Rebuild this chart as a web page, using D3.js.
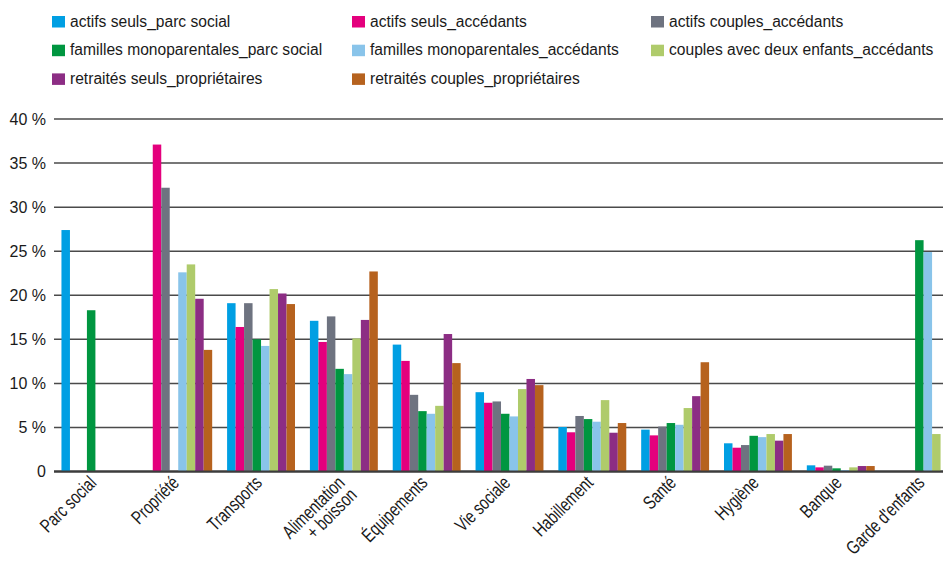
<!DOCTYPE html>
<html>
<head>
<meta charset="utf-8">
<script src="https://cdn.jsdelivr.net/npm/d3@7"></script>
<style>
  body { margin: 0; background: #fff; }
  text { font-family: "Liberation Sans", Arial, sans-serif; fill: #1a1a1a; }
</style>
</head>
<body>
<div id="chart"></div>
<script>
var w = 943;
var h = 563;

var categories = ["Parc social", "Propriété", "Transports", "Alimentation\n+ boisson", "Équipements",
  "Vie sociale", "Habillement", "Santé", "Hygiène", "Banque", "Garde d'enfants"];

var seriesNames = ["actifs seuls_parc social", "actifs seuls_accédants", "actifs couples_accédants",
  "familles monoparentales_parc social", "familles monoparentales_accédants", "couples avec deux enfants_accédants",
  "retraités seuls_propriétaires", "retraités couples_propriétaires"];

var seriesColors = ["#009fe3", "#e4007d", "#6e7380", "#009640", "#89c4ea", "#afcb6b", "#8c2d84", "#b6621e"];

// values in %, one per category
var actifsSeulsParcSocial   = [27.4, 0, 19.1, 17.1, 14.4, 9.0, 5.05, 4.75, 3.2, 0.7, 0];
var actifsSeulsAccedants    = [0, 37.1, 16.4, 14.7, 12.55, 7.8, 4.45, 4.1, 2.7, 0.47, 0];
var actifsCouplesAccedants  = [0, 32.2, 19.1, 17.6, 8.7, 7.95, 6.3, 5.1, 3.0, 0.66, 0];
var famillesMonoParcSocial  = [18.3, 0, 15.0, 11.65, 6.85, 6.55, 5.95, 5.5, 4.05, 0.36, 26.25];
var famillesMonoAccedants   = [0, 22.6, 14.25, 11.05, 6.55, 6.25, 5.65, 5.3, 3.9, 0.17, 24.9];
var couplesDeuxEnfants      = [0, 23.5, 20.7, 15.1, 7.45, 9.35, 8.1, 7.2, 4.25, 0.47, 4.25];
var retraitesSeuls          = [0, 19.6, 20.2, 17.2, 15.6, 10.5, 4.4, 8.55, 3.5, 0.62, 0];
var retraitesCouples        = [0, 13.8, 19.0, 22.7, 12.3, 9.8, 5.5, 12.4, 4.25, 0.62, 0];

var seriesValues = [actifsSeulsParcSocial, actifsSeulsAccedants, actifsCouplesAccedants,
  famillesMonoParcSocial, famillesMonoAccedants, couplesDeuxEnfants, retraitesSeuls, retraitesCouples];

var yTicks = [0, 5, 10, 15, 20, 25, 30, 35, 40];

var svg = d3.select("#chart")
  .append("svg")
  .attr("width", w)
  .attr("height", h);

var x0 = d3.scaleBand()
  .domain(categories)
  .range([54, 965])
  .paddingInner(0.18)
  .paddingOuter(0.09);

var x1 = d3.scaleBand()
  .domain(d3.range(seriesNames.length))
  .range([0, x0.bandwidth()]);

var y = d3.scaleLinear()
  .domain([0, 40])
  .range([471.5, 119]);

// grid lines
var grid = svg.append("g").attr("class", "grid");
yTicks.forEach(function(t) {
  grid.append("line")
    .attr("x1", 54)
    .attr("x2", w)
    .attr("y1", y(t))
    .attr("y2", y(t))
    .attr("stroke", t == 0 ? "#3c3c3c" : "#4a4a4a")
    .attr("stroke-width", t == 0 ? 2 : 1.5);
});

// y labels
var yaxis = svg.append("g").attr("class", "yaxis");
yTicks.forEach(function(t) {
  yaxis.append("text")
    .attr("x", 46)
    .attr("y", y(t))
    .attr("dy", "0.36em")
    .attr("text-anchor", "end")
    .style("font-size", "16px")
    .text(t == 0 ? "0" : t + " %");
});

// bars
var rows = [];
categories.forEach(function(c, ci) {
  seriesValues.forEach(function(vals, si) {
    if (vals[ci] > 0) rows.push({cat: c, s: si, v: vals[ci]});
  });
});

svg.append("g").attr("class", "bars")
  .selectAll("rect")
  .data(rows)
  .enter()
  .append("rect")
  .attr("x", function(d) { return x0(d.cat) + x1(d.s); })
  .attr("y", function(d) { return y(d.v); })
  .attr("width", x1.bandwidth())
  .attr("height", function(d) { return y(0) - y(d.v); })
  .attr("fill", function(d) { return seriesColors[d.s]; });

// redraw baseline on top
svg.append("line")
  .attr("x1", 54).attr("x2", w)
  .attr("y1", y(0)).attr("y2", y(0))
  .attr("stroke", "#3c3c3c")
  .attr("stroke-width", 2);

// x labels, rotated and squeezed (condensed look)
var xaxis = svg.append("g").attr("class", "xaxis");
categories.forEach(function(c) {
  var cx = x0(c) + x0.bandwidth() / 2;
  var t = xaxis.append("text")
    .attr("transform", "translate(" + (cx + 2) + "," + 484 + ") rotate(-45) scale(0.755,1)")
    .attr("text-anchor", "end")
    .style("font-size", "19px");
  c.split("\n").forEach(function(line, i) {
    t.append("tspan")
      .attr("x", 0)
      .attr("dy", i == 0 ? 0 : "0.9em")
      .text(line);
  });
});

// legend
var legCols = [52, 352, 651];
var legend = svg.append("g").attr("class", "legend");
seriesNames.forEach(function(name, i) {
  var col = i % 3, row = Math.floor(i / 3);
  var lx = legCols[col], ly = 16 + row * 28.7;
  legend.append("rect")
    .attr("x", lx)
    .attr("y", ly)
    .attr("width", 13)
    .attr("height", 11.5)
    .attr("fill", seriesColors[i]);
  legend.append("text")
    .attr("x", lx + 18)
    .attr("y", ly + 10.5)
    .style("font-size", "15.6px")
    .text(name);
});
</script>
</body>
</html>
